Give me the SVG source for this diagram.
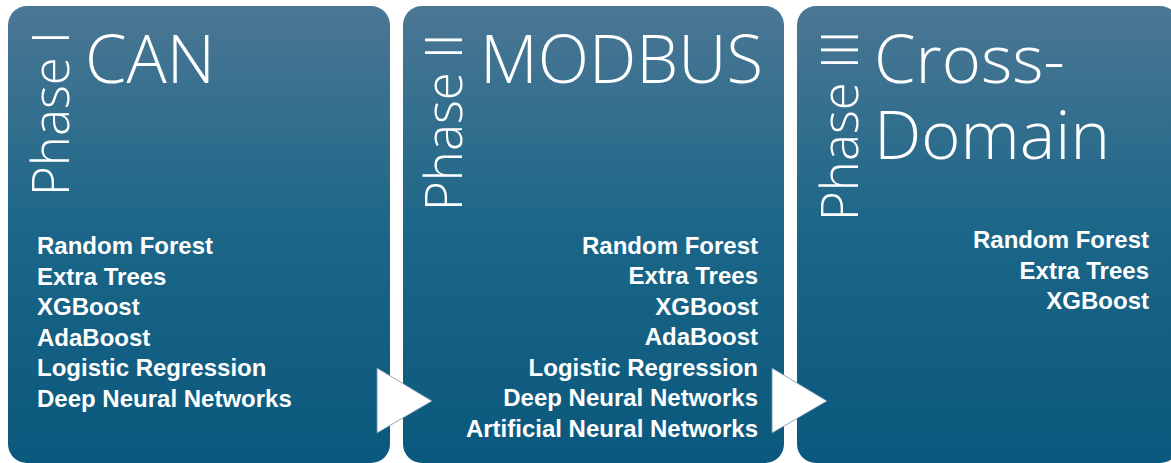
<svg xmlns="http://www.w3.org/2000/svg" width="1171" height="463" viewBox="0 0 1171 463">
  <defs>
    <linearGradient id="bg" x1="0" y1="0" x2="0" y2="1">
      <stop offset="0" stop-color="#4b7794"/>
      <stop offset="0.5" stop-color="#1b6688"/>
      <stop offset="1" stop-color="#0a587d"/>
    </linearGradient>
    <style>
      .box { fill: url(#bg); }
      .phase { font-family: "Open Sans", "Liberation Sans", sans-serif; font-weight: 300; font-size: 51px; fill: #ffffff; }
      .title { font-family: "Open Sans", "Liberation Sans", sans-serif; font-weight: 300; font-size: 67px; fill: #ffffff; }
      .item { font-family: "Liberation Sans", Arial, sans-serif; font-weight: bold; font-size: 24px; fill: #ffffff; }
      .arrow { fill: #ffffff; stroke: #6f93ab; stroke-width: 0.8; }
    </style>
  </defs>
  <rect width="1171" height="463" fill="#ffffff"/>

  <g id="phase1">
    <rect class="box" x="8" y="6" width="382" height="457" rx="19" ry="19"/>
    <text class="phase" transform="translate(69,196) rotate(-90)">Phase I</text>
    <text class="title" x="85" y="83">CAN</text>
    <text class="item" x="37" y="254">Random Forest</text>
    <text class="item" x="37" y="284.5">Extra Trees</text>
    <text class="item" x="37" y="315">XGBoost</text>
    <text class="item" x="37" y="345.5">AdaBoost</text>
    <text class="item" x="37" y="376">Logistic Regression</text>
    <text class="item" x="37" y="406.5">Deep Neural Networks</text>
  </g>

  <g id="phase2">
    <rect class="box" x="403" y="6" width="381" height="457" rx="19" ry="19"/>
    <text class="phase" transform="translate(462,211) rotate(-90)">Phase II</text>
    <text class="title" x="480" y="83">MODBUS</text>
    <g text-anchor="end">
      <text class="item" x="758" y="253.5">Random Forest</text>
      <text class="item" x="758" y="284">Extra Trees</text>
      <text class="item" x="758" y="314.5">XGBoost</text>
      <text class="item" x="758" y="345">AdaBoost</text>
      <text class="item" x="758" y="375.5">Logistic Regression</text>
      <text class="item" x="758" y="406">Deep Neural Networks</text>
      <text class="item" x="758" y="436.5">Artificial Neural Networks</text>
    </g>
  </g>

  <g id="phase3">
    <rect class="box" x="797" y="6" width="382" height="457" rx="19" ry="19"/>
    <text class="phase" transform="translate(858,221) rotate(-90)">Phase III</text>
    <text class="title"><tspan x="874" y="83">Cross-</tspan><tspan x="874" y="159">Domain</tspan></text>
    <g text-anchor="end">
      <text class="item" x="1149" y="248">Random Forest</text>
      <text class="item" x="1149" y="278.5">Extra Trees</text>
      <text class="item" x="1149" y="309">XGBoost</text>
    </g>
  </g>

  <g id="connectors">
    <polygon class="arrow" points="377,368 432,401 377,433"/>
    <polygon class="arrow" points="772,368 827,401 772,433"/>
  </g>
</svg>
